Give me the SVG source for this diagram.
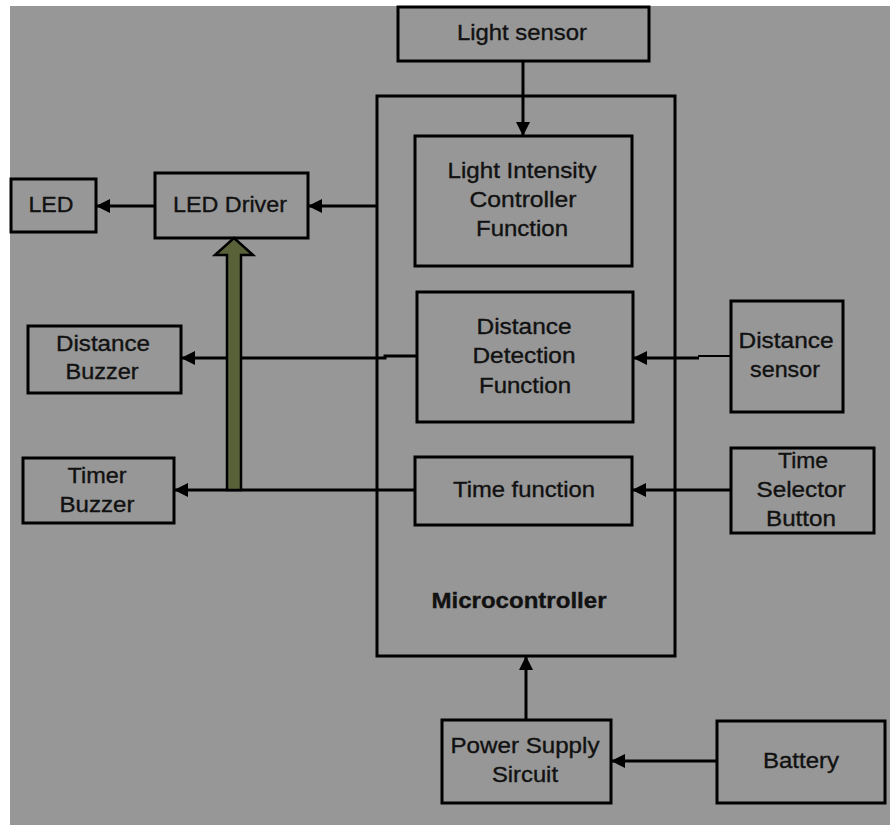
<svg xmlns="http://www.w3.org/2000/svg" width="890" height="825" viewBox="0 0 890 825">
<style>
.box{fill:none;stroke:#000;stroke-width:3}
.ln{fill:none;stroke:#000;stroke-width:3}
.t{font-family:"Liberation Sans",Arial,sans-serif;font-size:22px;fill:#111;stroke:#111;stroke-width:0.35;text-anchor:middle}
.b{font-weight:bold}
</style>
<defs>
<marker id="ah" viewBox="0 0 14 14" refX="14" refY="7" markerWidth="14" markerHeight="14" orient="auto" markerUnits="userSpaceOnUse">
<path d="M0,0 L14,7 L0,14 z" fill="#000"/>
</marker>
</defs>
<rect x="0" y="0" width="890" height="825" fill="#ffffff"/>
<rect x="10" y="6" width="880" height="819" fill="#979797"/>

<g id="connectors">
<line class="ln" x1="523" y1="61" x2="523" y2="136" marker-end="url(#ah)"/>
<line class="ln" x1="377" y1="206" x2="308" y2="206" marker-end="url(#ah)"/>
<line class="ln" x1="155" y1="206" x2="96" y2="206" marker-end="url(#ah)"/>
<path class="ln" d="M417,356 H385 V358 H181" marker-end="url(#ah)"/>
<line class="ln" x1="415" y1="490" x2="174" y2="490" marker-end="url(#ah)"/>
<line x1="731" y1="356" x2="698" y2="356" stroke="#000" stroke-width="2"/>
<line class="ln" x1="699" y1="358" x2="633" y2="358" marker-end="url(#ah)"/>
<line class="ln" x1="731" y1="490" x2="632" y2="490" marker-end="url(#ah)"/>
<line class="ln" x1="526" y1="720" x2="526" y2="656" marker-end="url(#ah)"/>
<line class="ln" x1="717" y1="761" x2="611" y2="761" marker-end="url(#ah)"/>
<path d="M227,490 V255 H215 L234,238 L253,255 H241 V490 Z" fill="#596138" stroke="#000" stroke-width="2.5" stroke-linejoin="miter"/>
</g>

<g id="microcontroller">
<rect class="box" x="377" y="96" width="298" height="560"/>
<text class="t b" x="519" y="608" textLength="175" lengthAdjust="spacingAndGlyphs">Microcontroller</text>
</g>

<g id="light-sensor">
<rect class="box" x="398" y="7" width="251" height="54"/>
<text class="t" x="522" y="40" textLength="130" lengthAdjust="spacingAndGlyphs">Light sensor</text>
</g>

<g id="light-intensity">
<rect class="box" x="415" y="136" width="217" height="130"/>
<text class="t" x="522" y="178" textLength="149" lengthAdjust="spacingAndGlyphs">Light Intensity</text>
<text class="t" x="523" y="207" textLength="107" lengthAdjust="spacingAndGlyphs">Controller</text>
<text class="t" x="522" y="236" textLength="92" lengthAdjust="spacingAndGlyphs">Function</text>
</g>

<g id="distance-detection">
<rect class="box" x="417" y="292" width="216" height="130"/>
<text class="t" x="524" y="334" textLength="95" lengthAdjust="spacingAndGlyphs">Distance</text>
<text class="t" x="524" y="363" textLength="103" lengthAdjust="spacingAndGlyphs">Detection</text>
<text class="t" x="525" y="393" textLength="92" lengthAdjust="spacingAndGlyphs">Function</text>
</g>

<g id="time-function">
<rect class="box" x="415" y="457" width="217" height="68"/>
<text class="t" x="524" y="497" textLength="142" lengthAdjust="spacingAndGlyphs">Time function</text>
</g>

<g id="led">
<rect class="box" x="11" y="179" width="85" height="53"/>
<text class="t" x="51" y="212" textLength="45" lengthAdjust="spacingAndGlyphs">LED</text>
</g>

<g id="led-driver">
<rect class="box" x="155" y="173" width="153" height="65"/>
<text class="t" x="230" y="212" textLength="114" lengthAdjust="spacingAndGlyphs">LED Driver</text>
</g>

<g id="distance-buzzer">
<rect class="box" x="28" y="326" width="153" height="67"/>
<text class="t" x="103" y="351" textLength="94" lengthAdjust="spacingAndGlyphs">Distance</text>
<text class="t" x="102" y="379" textLength="73" lengthAdjust="spacingAndGlyphs">Buzzer</text>
</g>

<g id="timer-buzzer">
<rect class="box" x="23" y="458" width="151" height="65"/>
<text class="t" x="97" y="483" textLength="59" lengthAdjust="spacingAndGlyphs">Timer</text>
<text class="t" x="97" y="512" textLength="75" lengthAdjust="spacingAndGlyphs">Buzzer</text>
</g>

<g id="distance-sensor">
<rect class="box" x="731" y="301" width="112" height="111"/>
<text class="t" x="786" y="348" textLength="95" lengthAdjust="spacingAndGlyphs">Distance</text>
<text class="t" x="785" y="377" textLength="70" lengthAdjust="spacingAndGlyphs">sensor</text>
</g>

<g id="time-selector">
<rect class="box" x="731" y="448" width="143" height="85"/>
<text class="t" x="803" y="468" textLength="50" lengthAdjust="spacingAndGlyphs">Time</text>
<text class="t" x="801" y="497" textLength="89" lengthAdjust="spacingAndGlyphs">Selector</text>
<text class="t" x="801" y="526" textLength="70" lengthAdjust="spacingAndGlyphs">Button</text>
</g>

<g id="power-supply">
<rect class="box" x="442" y="720" width="169" height="83"/>
<text class="t" x="525" y="753" textLength="149" lengthAdjust="spacingAndGlyphs">Power Supply</text>
<text class="t" x="525" y="782" textLength="66" lengthAdjust="spacingAndGlyphs">Sircuit</text>
</g>

<g id="battery">
<rect class="box" x="717" y="721" width="168" height="82"/>
<text class="t" x="801" y="768" textLength="76" lengthAdjust="spacingAndGlyphs">Battery</text>
</g>
</svg>
